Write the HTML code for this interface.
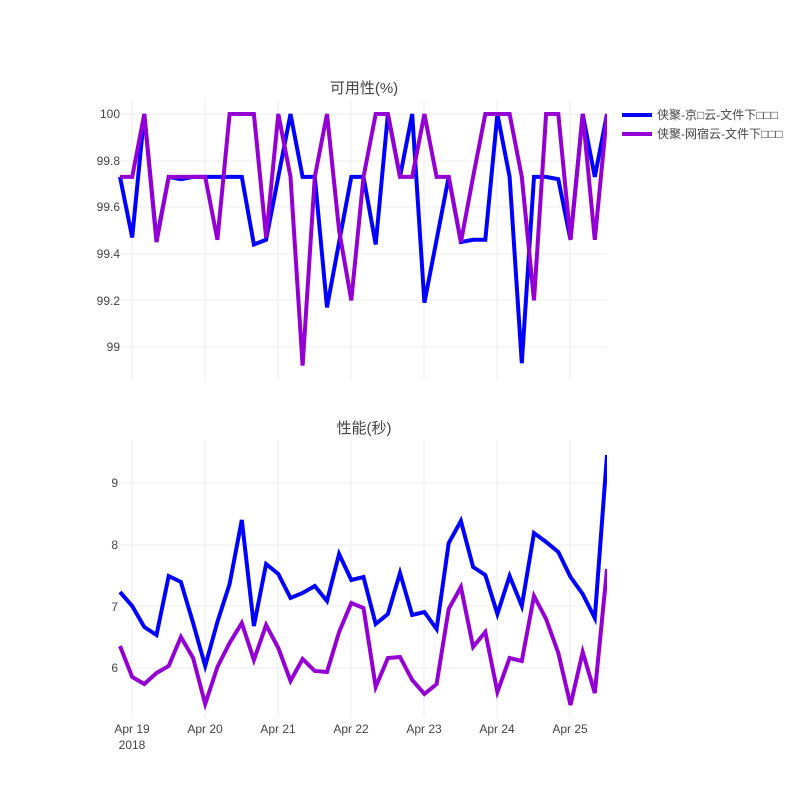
<!DOCTYPE html>
<html><head><meta charset="utf-8"><style>
body{margin:0;background:#fff}
text{font-family:"Liberation Sans","Noto Sans CJK SC",sans-serif;fill:#444}
</style></head><body>
<svg id="s" width="800" height="800" xmlns="http://www.w3.org/2000/svg">
<defs>
<clipPath id="c1"><rect x="118" y="98" width="489" height="284"/></clipPath>
<clipPath id="c2"><rect x="118" y="440" width="489" height="278"/></clipPath>
</defs>
<g stroke="#eee" stroke-width="1" id="grid"></g>
<text x="364" y="93" font-size="15" text-anchor="middle">可用性(%)</text>
<text x="364" y="433" font-size="15" text-anchor="middle">性能(秒)</text>
<g font-size="12" text-anchor="end">
<text x="120" y="118">100</text><text x="120" y="165">99.8</text><text x="120" y="211">99.6</text>
<text x="120" y="258">99.4</text><text x="120" y="305">99.2</text><text x="120" y="351">99</text>
<text x="118" y="487">9</text><text x="118" y="549">8</text><text x="118" y="611">7</text><text x="118" y="672">6</text>
</g>
<g font-size="12" text-anchor="middle">
<text x="132" y="733">Apr 19</text><text x="132" y="749">2018</text>
<text x="205" y="733">Apr 20</text><text x="278" y="733">Apr 21</text><text x="351" y="733">Apr 22</text>
<text x="424" y="733">Apr 23</text><text x="497" y="733">Apr 24</text><text x="570" y="733">Apr 25</text>
</g>
<g id="l1" fill="none" stroke-width="4" clip-path="url(#c1)"></g>
<g id="l2" fill="none" stroke-width="4" clip-path="url(#c2)"></g>
<line x1="622" y1="115" x2="652" y2="115" stroke="#0000ff" stroke-width="4"/>
<line x1="622" y1="134" x2="652" y2="134" stroke="#9400d3" stroke-width="4"/>
<text x="657" y="119" font-size="12">侠聚-京□云-文件下□□□</text>
<text x="657" y="138" font-size="12">侠聚-网宿云-文件下□□□</text>
</svg>
<script>
var NS="http://www.w3.org/2000/svg";
function el(p,t,a){var e=document.createElementNS(NS,t);for(var k in a)e.setAttribute(k,a[k]);p.appendChild(e);return e;}
var g=document.getElementById('grid');
[114,161,207,254,300,347].forEach(function(y){el(g,'line',{x1:120,x2:607,y1:y,y2:y});});
[483,545,606,668].forEach(function(y){el(g,'line',{x1:120,x2:607,y1:y,y2:y});});
[132,205,278,351,424,497,570].forEach(function(x){el(g,'line',{x1:x,x2:x,y1:100,y2:380});el(g,'line',{x1:x,x2:x,y1:440,y2:718});});
var bt=[99.73,99.47,100,99.46,99.73,99.72,99.73,99.73,99.73,99.73,99.73,99.44,99.46,99.73,100,99.73,99.73,99.17,99.45,99.73,99.73,99.44,100,99.73,100,99.19,99.46,99.73,99.45,99.46,99.46,100,99.73,98.93,99.73,99.73,99.72,99.46,100,99.73,100];
var pt=[99.73,99.73,100,99.45,99.73,99.73,99.73,99.73,99.46,100,100,100,99.47,100,99.73,98.92,99.73,100,99.5,99.2,99.73,100,100,99.73,99.73,100,99.73,99.73,99.45,99.73,100,100,100,99.73,99.2,100,100,99.46,100,99.46,100];
var bb=[592,606,627,635,576,582,623,666,622,584,520,626,564,574,598,593,586,601,554,580,577,624,614,573,615,612,629,543,521,567,575,614,576,606,533,542,552,577,594,618,455];
var pb=[646,677,684,673,666,637,658,704,667,643,623,660,625,648,681,659,671,672,632,603,608,687,658,657,680,694,684,609,587,647,632,692,658,661,596,619,653,705,652,693,569];
function pl(L,arr,f,c){var s=arr.map(function(v,i){return (120+12.175*i).toFixed(1)+','+f(v).toFixed(1);}).join(' ');el(L,'polyline',{points:s,stroke:c});}
var ft=function(v){return 114+(100-v)*233;},id=function(v){return v;};
var L1=document.getElementById('l1'),L2=document.getElementById('l2');
pl(L1,bt,ft,'#0000ff');pl(L1,pt,ft,'#9400d3');pl(L2,bb,id,'#0000ff');pl(L2,pb,id,'#9400d3');
</script>
</body></html>
